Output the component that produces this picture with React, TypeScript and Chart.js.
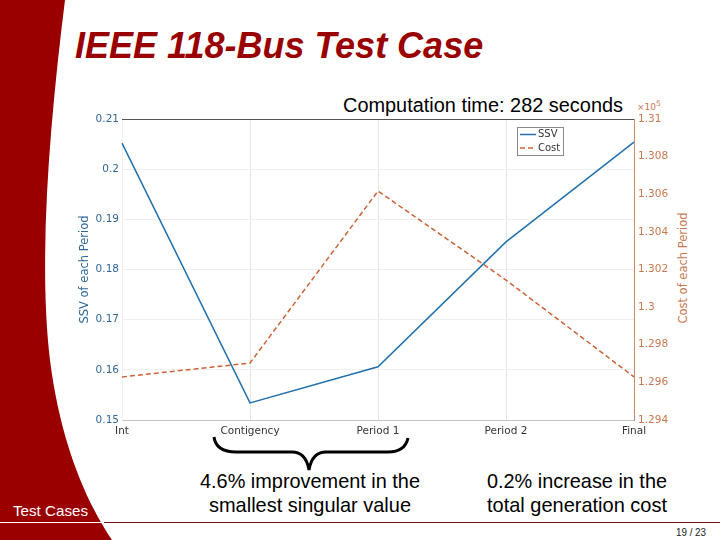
import React, { useEffect, useRef } from "react";
import { Chart, registerables } from "chart.js";

Chart.register(...registerables);

const categories = ["Int", "Contigency", "Period 1", "Period 2", "Final"];
const ssvValues = [0.2052, 0.1534, 0.1606, 0.1855, 0.2054];
const costValues = [129629, 129703, 130617, 130144, 129629];
const ssvRange = [0.15, 0.21];
const costRange = [129400, 131000];
const legendLabels = ["SSV", "Cost"];

const BLUE = "#2271ad";
const BLUE_TXT = "#30689a";
const ORANGE = "#cc6236";
const ORANGE_TXT = "#c8784f";
const TICK_FONT = { family: "'DejaVu Sans', Verdana, sans-serif", size: 10.5 };

const decor = {
  id: "decor",
  afterDraw(chart: any) {
    const { ctx, chartArea: a } = chart;
    ctx.save();
    // top border
    ctx.strokeStyle = "#555";
    ctx.lineWidth = 1;
    ctx.beginPath();
    ctx.moveTo(a.left, a.top + 0.5);
    ctx.lineTo(a.right, a.top + 0.5);
    ctx.stroke();
    // legend box
    const lx = a.right - 117;
    const ly = a.top + 8;
    const lw = 46;
    const lh = 28;
    ctx.fillStyle = "#fff";
    ctx.fillRect(lx, ly, lw, lh);
    ctx.strokeStyle = "#8a8a8a";
    ctx.lineWidth = 1;
    ctx.strokeRect(lx + 0.5, ly + 0.5, lw, lh);
    const ds = chart.data.datasets;
    ctx.font = "10px 'DejaVu Sans', sans-serif";
    ctx.textBaseline = "middle";
    ds.forEach((d: any, i: number) => {
      const y = ly + 7.5 + i * 13.5;
      ctx.strokeStyle = d.borderColor;
      ctx.lineWidth = 1.5;
      ctx.setLineDash(d.borderDash || []);
      ctx.beginPath();
      ctx.moveTo(lx + 3, y);
      ctx.lineTo(lx + 19, y);
      ctx.stroke();
      ctx.setLineDash([]);
      ctx.fillStyle = "#333";
      ctx.fillText(d.label, lx + 21, y);
    });
    ctx.restore();
  },
};

function ChartCanvas() {
  const ref = useRef<HTMLCanvasElement>(null);
  useEffect(() => {
    const chart = new Chart(ref.current!, {
      type: "line",
      data: {
        labels: categories,
        datasets: [
          {
            label: legendLabels[0],
            data: ssvValues,
            borderColor: BLUE,
            borderWidth: 1.5,
            pointRadius: 0,
            yAxisID: "y",
            tension: 0,
          },
          {
            label: legendLabels[1],
            data: costValues,
            borderColor: ORANGE,
            borderWidth: 1.5,
            borderDash: [5, 3],
            pointRadius: 0,
            yAxisID: "y1",
            tension: 0,
          },
        ],
      },
      options: {
        responsive: false,
        animation: false,
        layout: { padding: { left: 70, right: 30, top: 119, bottom: 100 } },
        plugins: { legend: { display: false }, tooltip: { enabled: false }, title: { display: false } },
        scales: {
          x: {
            type: "category",
            offset: false,
            afterFit: (s: any) => {
              s.height = 20;
            },
            grid: { color: "#e4e4e4", drawTicks: false },
            border: { color: "#c4c4c4" },
            ticks: { color: "#333", font: TICK_FONT, padding: 5, maxRotation: 0 },
          },
          y: {
            position: "left",
            min: ssvRange[0],
            max: ssvRange[1],
            afterFit: (s: any) => {
              s.width = 52;
            },
            grid: { color: "#efefef", drawTicks: false },
            border: { color: "#eeeeee" },
            ticks: {
              stepSize: 0.01,
              color: BLUE_TXT,
              font: TICK_FONT,
              padding: 3,
              callback: (v: any) => String(Number(Number(v).toFixed(2))),
            },
            title: {
              display: true,
              text: "SSV of each Period",
              color: BLUE_TXT,
              font: { family: "'DejaVu Sans', sans-serif", size: 11.5 },
              padding: { top: 8, bottom: 0 },
            },
          },
          y1: {
            position: "right",
            min: costRange[0],
            max: costRange[1],
            afterFit: (s: any) => {
              s.width = 56;
            },
            grid: { display: false, drawTicks: false },
            border: { color: "#c98a6b" },
            ticks: {
              stepSize: 200,
              color: ORANGE_TXT,
              font: TICK_FONT,
              padding: 4,
              callback: (v: any) => String(Number((Number(v) / 1e5).toFixed(3))),
            },
          },
        },
      },
      plugins: [decor],
    } as any);
    return () => chart.destroy();
  }, []);
  return (
    <canvas
      ref={ref}
      width={720}
      height={540}
      style={{ position: "absolute", left: 0, top: 0, width: 720, height: 540 }}
    />
  );
}

export default function App() {
  const sans = "'Liberation Sans', Arial, sans-serif";
  return (
    <div
      style={{
        position: "fixed",
        left: 0,
        top: 0,
        width: 720,
        height: 540,
        background: "#fff",
        overflow: "hidden",
      }}
    >
      <svg width={720} height={540} style={{ position: "absolute", left: 0, top: 0 }}>
        <path d="M0,0 L65,0 C50,120 38,260 50,360 C60,440 85,500 112,540 L0,540 Z" fill="#9b0000" />
        <line x1={0} y1={522.5} x2={104} y2={522.5} stroke="#ffffff" strokeWidth={1} />
        <line x1={104} y1={522.5} x2={720} y2={522.5} stroke="#7a1414" strokeWidth={1} />
        <text x={75} y={58} fontFamily={sans} fontWeight="bold" fontStyle="italic" fontSize={36} fill="#990000">
          IEEE 118-Bus Test Case
        </text>
        <text x={343} y={112} fontFamily={sans} fontSize={20} fill="#000" textLength={280} lengthAdjust="spacingAndGlyphs">
          Computation time: 282 seconds
        </text>
        <text x={637} y={110} fontFamily="'DejaVu Sans', sans-serif" fontSize={9} fill={ORANGE_TXT}>
          ×10
          <tspan dy={-4} fontSize={7.5}>5</tspan>
        </text>
        <text
          x={0}
          y={0}
          transform="translate(687,268) rotate(-90)"
          fontFamily="'DejaVu Sans', sans-serif"
          fontSize={11.5}
          fill={ORANGE_TXT}
          textAnchor="middle"
        >
          Cost of each Period
        </text>
        <path
          d="M214,437 Q216,452 236,452 L292,452 Q306,452 309,470 Q312,452 326,452 L388,452 Q405,452 408,438"
          fill="none"
          stroke="#000"
          strokeWidth={3}
        />
        <text x={200} y={488} fontFamily={sans} fontSize={21} fill="#000" textLength={220} lengthAdjust="spacingAndGlyphs">
          4.6% improvement in the
        </text>
        <text x={209} y={512} fontFamily={sans} fontSize={21} fill="#000" textLength={202} lengthAdjust="spacingAndGlyphs">
          smallest singular value
        </text>
        <text x={487} y={488} fontFamily={sans} fontSize={21} fill="#000" textLength={180} lengthAdjust="spacingAndGlyphs">
          0.2% increase in the
        </text>
        <text x={487} y={512} fontFamily={sans} fontSize={21} fill="#000" textLength={180} lengthAdjust="spacingAndGlyphs">
          total generation cost
        </text>
        <text x={13} y={516} fontFamily={sans} fontSize={15} fill="#fff" textLength={75} lengthAdjust="spacingAndGlyphs">
          Test Cases
        </text>
        <text x={676} y={536} fontFamily={sans} fontSize={10} fill="#222" textLength={30} lengthAdjust="spacingAndGlyphs">
          19 / 23
        </text>
      </svg>
      <ChartCanvas />
    </div>
  );
}
